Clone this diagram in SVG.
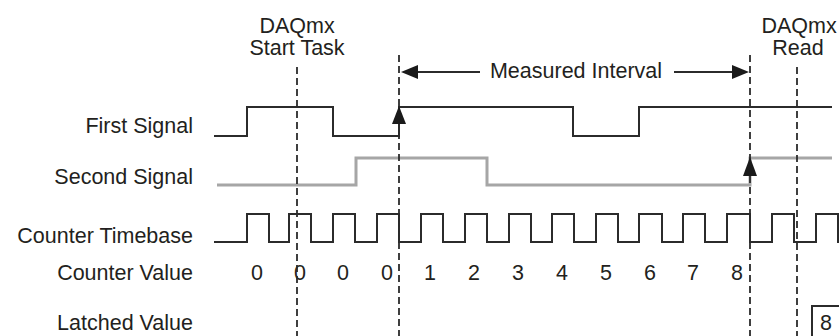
<svg xmlns="http://www.w3.org/2000/svg" width="839" height="336" viewBox="0 0 839 336">
<style>
text{font-family:"Liberation Sans",Arial,Helvetica,sans-serif;font-size:21.5px;fill:#231f20}
.lbl{text-anchor:end}
.mid{text-anchor:middle}
.sig{fill:none;stroke:#2b2b2b;stroke-width:2}
.gray{fill:none;stroke:#a6a6a6;stroke-width:3}
.dash{fill:none;stroke:#2b2b2b;stroke-width:1.8;stroke-dasharray:7 4}
.head{fill:#1a1a1a}
</style>
<rect width="839" height="336" fill="#fff"/>
<g id="labels">
<text class="lbl" x="193" y="133">First Signal</text>
<text class="lbl" x="193" y="184">Second Signal</text>
<text class="lbl" x="193" y="243">Counter Timebase</text>
<text class="lbl" x="193" y="280">Counter Value</text>
<text class="lbl" x="193" y="330">Latched Value</text>
</g>
<g id="start-task">
<text class="mid" x="297" y="33">DAQmx</text>
<text class="mid" x="297" y="55">Start Task</text>
</g>
<g id="read">
<text class="mid" x="799" y="33">DAQmx</text>
<text class="mid" x="798" y="55">Read</text>
</g>
<g id="measured-interval">
<text class="mid" x="576" y="78">Measured Interval</text>
</g>
<g id="first-signal">
<path class="sig" d="M214,136 H247 V107 H333 V136 H399 V107 H573 V136 H639 V107 H832"/>
</g>
<g id="second-signal">
<path class="gray" d="M217,185 H356 V158 H487 V185 H750 V158 H832"/>
</g>
<g id="counter-timebase">
<path class="sig" d="M214,242 H247 V214 H269 V242 H289 V214 H311 V242 H333 V214 H355 V242 H377 V214 H399 V242 H421 V214 H443 V242 H465 V214 H487 V242 H509 V214 H531 V242 H552 V214 H574 V242 H596 V214 H618 V242 H639 V214 H662 V242 H683 V214 H705 V242 H727 V214 H750 V242 H772 V214 H794 V242 H816 V214 H838 V242 H839"/>
</g>
<g id="counter-values">
<text class="mid" x="257" y="280">0</text>
<text class="mid" x="300" y="280">0</text>
<text class="mid" x="343" y="280">0</text>
<text class="mid" x="387" y="280">0</text>
<text class="mid" x="430" y="280">1</text>
<text class="mid" x="474" y="280">2</text>
<text class="mid" x="518" y="280">3</text>
<text class="mid" x="562" y="280">4</text>
<text class="mid" x="606" y="280">5</text>
<text class="mid" x="650" y="280">6</text>
<text class="mid" x="693" y="280">7</text>
<text class="mid" x="737" y="280">8</text>
</g>
<g id="latched-value">
<rect x="812" y="306" width="40" height="40" fill="none" stroke="#2b2b2b" stroke-width="2"/>
<text class="mid" x="826" y="330">8</text>
</g>
<g id="connectors">
<path class="dash" d="M297,67 V336"/>
<path class="dash" d="M399,55 V336"/>
<path class="dash" d="M750,55 V336"/>
<path class="dash" d="M797,67 V336"/>
<path class="sig" d="M416,72 H480"/>
<path class="head" d="M401,72 L418,65 L418,79 Z"/>
<path class="sig" d="M674,72 H734"/>
<path class="head" d="M749,72 L732,65 L732,79 Z"/>
<path class="head" d="M399,106 L392,124 L406,124 Z"/>
<path class="head" d="M750,157 L743,176 L757,176 Z"/>
</g>
</svg>
